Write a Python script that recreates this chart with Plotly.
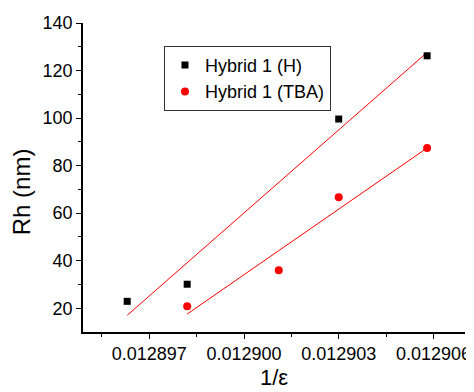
import numpy as np
import plotly.graph_objects as go

# data
x_h = [0.0128963, 0.0128982, 0.0129030, 0.0129058]
y_h = [22.9, 30.1, 99.6, 126.2]
x_tba = [0.0128982, 0.0129011, 0.0129030, 0.0129058]
y_tba = [20.8, 36.0, 66.7, 87.4]
x_tickvals = [0.012897, 0.012900, 0.012903, 0.012906]
x_ticktext = ["0.012897", "0.012900", "0.012903", "0.012906"]
y_tickvals = [20, 40, 60, 80, 100, 120, 140]

def fit(xs, ys):
    k, b = np.polyfit(np.array(xs) - xs[0], ys, 1)
    xe = np.array([min(xs), max(xs)])
    return xe, k * (xe - xs[0]) + b

fig = go.Figure()
for xs, ys in [(x_h, y_h), (x_tba, y_tba)]:
    fx, fy = fit(xs, ys)
    fig.add_trace(go.Scatter(x=fx, y=fy, mode="lines", line=dict(color="red", width=1),
                             showlegend=False, hoverinfo="skip"))
fig.add_trace(go.Scatter(x=x_h, y=y_h, mode="markers", name="Hybrid 1 (H)",
                         marker=dict(symbol="square", size=7, color="black")))
fig.add_trace(go.Scatter(x=x_tba, y=y_tba, mode="markers", name="Hybrid 1 (TBA)",
                         marker=dict(symbol="circle", size=8, color="red")))

font = "Liberation Sans, Arial, sans-serif"
fig.update_layout(
    width=466, height=384,
    margin=dict(l=75, r=9, t=15, b=60),
    plot_bgcolor="white", paper_bgcolor="white",
    font=dict(family=font, color="black", size=18),
    legend=dict(x=0.212, y=0.926, xanchor="left", yanchor="top",
                bordercolor="#333", borderwidth=1, bgcolor="white",
                font=dict(size=18), itemwidth=30, tracegroupgap=0),
    xaxis=dict(range=[0.0128949, 0.012907], tickvals=x_tickvals, ticktext=x_ticktext,
               ticks="outside", ticklen=5, tickwidth=1, tickcolor="black", automargin=False,
               showline=True, linecolor="black", linewidth=1.5, showgrid=False, zeroline=False,
               minor=dict(tickvals=[0.0128955, 0.0128985, 0.0129015, 0.0129045],
                          ticks="outside", ticklen=3, tickcolor="black"),
               tickfont=dict(size=18)),
    yaxis=dict(range=[10, 140], tickvals=y_tickvals, automargin=False,
               ticks="outside", ticklen=5, tickwidth=1, tickcolor="black",
               showline=True, linecolor="black", linewidth=1.5, showgrid=False, zeroline=False,
               minor=dict(tickvals=[30, 50, 70, 90, 110, 130], ticks="outside", ticklen=3,
                          tickcolor="black"),
               tickfont=dict(size=18)),
    annotations=[
        dict(text="1/ε", xref="paper", yref="paper", x=0.5, y=-0.148,
             xanchor="center", yanchor="middle", showarrow=False, font=dict(size=22)),
        dict(text="Rh (nm)", xref="paper", yref="paper", x=-0.16, y=0.455,
             xanchor="center", yanchor="middle", textangle=-90, showarrow=False,
             font=dict(size=24)),
    ],
)
fig.write_html("out.html")
